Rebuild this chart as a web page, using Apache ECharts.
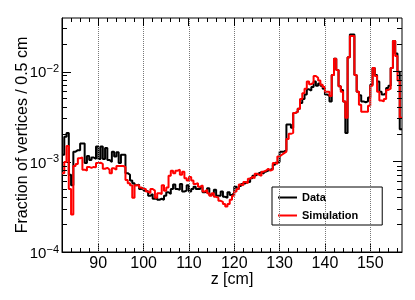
<!DOCTYPE html>
<html><head><meta charset="utf-8">
<script src="https://cdn.jsdelivr.net/npm/echarts@6/dist/echarts.min.js"></script>
<style>html,body{margin:0;padding:0;background:#fff}#main{width:415px;height:300px}</style>
</head><body><div id="main"></div>
<script>
// Histogram binning (z in cm)
const binLow = 82, binWidth = 0.5;
// Data (black) – fraction of vertices per 0.5 cm bin, bins from 82 to 157 cm
const dataValues = [
1.2e-3,1.9e-3,2.1e-3,0.72e-3,0.55e-3,1.3e-3,1.35e-3,1.35e-3,1.6e-3,1.6e-3,
0.97e-3,1.16e-3,1.05e-3,1.12e-3,1.08e-3,1.48e-3,1.08e-3,1.48e-3,1.08e-3,1.43e-3,
1.05e-3,1.0e-3,1.3e-3,1.15e-3,1.28e-3,0.97e-3,1.2e-3,1.2e-3,0.75e-3,0.72e-3,
0.62e-3,0.58e-3,0.55e-3,0.56e-3,0.5e-3,0.52e-3,0.48e-3,0.47e-3,0.42e-3,0.44e-3,
0.39e-3,0.4e-3,0.38e-3,0.39e-3,0.38e-3,0.42e-3,0.46e-3,0.44e-3,0.5e-3,0.56e-3,
0.5e-3,0.49e-3,0.57e-3,0.47e-3,0.48e-3,0.55e-3,0.47e-3,0.5e-3,0.53e-3,0.5e-3,
0.5e-3,0.53e-3,0.46e-3,0.47e-3,0.51e-3,0.43e-3,0.45e-3,0.49e-3,0.42e-3,0.42e-3,
0.47e-3,0.41e-3,0.4e-3,0.46e-3,0.43e-3,0.45e-3,0.53e-3,0.5e-3,0.54e-3,0.57e-3,
0.58e-3,0.6e-3,0.6e-3,0.66e-3,0.7e-3,0.72e-3,0.75e-3,0.77e-3,0.74e-3,0.78e-3,
0.8e-3,0.82e-3,0.84e-3,0.93e-3,0.98e-3,1.0e-3,1.3e-3,1.3e-3,1.35e-3,2.6e-3,
2.6e-3,2.4e-3,3.5e-3,3.6e-3,3.9e-3,4.5e-3,5.0e-3,5.6e-3,6.4e-3,6.2e-3,
6.8e-3,7.8e-3,7.0e-3,7.4e-3,7.0e-3,6.5e-3,5.6e-3,5.4e-3,4.7e-3,9.2e-3,
14e-3,10.5e-3,6.9e-3,6.3e-3,4.7e-3,2.1e-3,14.5e-3,26e-3,26e-3,9.2e-3,
6.0e-3,5.5e-3,4.7e-3,4.6e-3,4.7e-3,5.2e-3,7.2e-3,11e-3,9.2e-3,7.8e-3,
6.0e-3,5.6e-3,5.8e-3,6.6e-3,7.0e-3,11e-3,22e-3,16e-3,10e-3,2.3e-3
];
// Simulation (red)
const simValues = [
0.75e-3,1.0e-3,1.5e-3,0.5e-3,0.26e-3,0.9e-3,0.95e-3,1.1e-3,1.12e-3,0.82e-3,
0.8e-3,0.88e-3,0.86e-3,0.88e-3,0.87e-3,0.97e-3,0.98e-3,0.95e-3,0.84e-3,0.86e-3,
0.82e-3,0.75e-3,0.85e-3,0.82e-3,0.9e-3,0.9e-3,0.9e-3,0.88e-3,0.63e-3,0.58e-3,
0.55e-3,0.4e-3,0.55e-3,0.55e-3,0.52e-3,0.5e-3,0.5e-3,0.47e-3,0.45e-3,0.5e-3,
0.48e-3,0.4e-3,0.45e-3,0.44e-3,0.55e-3,0.48e-3,0.52e-3,0.7e-3,0.8e-3,0.75e-3,
0.8e-3,0.82e-3,0.72e-3,0.78e-3,0.66e-3,0.62e-3,0.68e-3,0.62e-3,0.57e-3,0.58e-3,
0.53e-3,0.55e-3,0.47e-3,0.49e-3,0.45e-3,0.42e-3,0.45e-3,0.41e-3,0.4e-3,0.37e-3,
0.36e-3,0.34e-3,0.32e-3,0.34e-3,0.38e-3,0.42e-3,0.47e-3,0.5e-3,0.56e-3,0.55e-3,
0.6e-3,0.58e-3,0.65e-3,0.68e-3,0.66e-3,0.74e-3,0.72e-3,0.7e-3,0.78e-3,0.8e-3,
0.84e-3,0.8e-3,0.82e-3,0.97e-3,0.95e-3,1.15e-3,1.2e-3,1.25e-3,1.3e-3,1.8e-3,
2.05e-3,2.1e-3,3.5e-3,3.6e-3,3.9e-3,5.0e-3,5.8e-3,6.5e-3,7.8e-3,7.3e-3,
7.6e-3,9.0e-3,8.6e-3,8.0e-3,7.2e-3,6.8e-3,6.0e-3,6.0e-3,5.4e-3,9.2e-3,
14e-3,10.5e-3,6.9e-3,6.0e-3,4.7e-3,3.1e-3,14.5e-3,25e-3,25e-3,9.2e-3,
6.0e-3,4.3e-3,3.6e-3,3.6e-3,3.6e-3,4.2e-3,7.0e-3,11e-3,9.0e-3,6.0e-3,
4.8e-3,4.7e-3,5.0e-3,6.3e-3,6.5e-3,11e-3,22e-3,15e-3,8.0e-3,3.1e-3
];
const xMin = 82, xMax = 157;
const yMin = 1e-4, yMax = 0.0396;
const xTickLabels = [90,100,110,120,130,140,150];
const xMinorTicks = [84,86,88,92,94,96,98,102,104,106,108,112,114,116,118,122,124,126,128,132,134,136,138,142,144,146,148,152,154,156];
const yMajorTicks = [1e-4,1e-3,1e-2];
const yMinorTicks = [2e-4,3e-4,4e-4,5e-4,6e-4,7e-4,8e-4,9e-4,2e-3,3e-3,4e-3,5e-3,6e-3,7e-3,8e-3,9e-3,2e-2,3e-2];
const seriesNames = ['Data','Simulation'];

function toSteps(vals){
  const pts = vals.map((v,i)=>[binLow+i*binWidth, v]);
  pts.push([binLow+vals.length*binWidth, vals[vals.length-1]]);
  return pts;
}
const FONT = '"Liberation Sans", Arial, Helvetica, sans-serif';
const chart = echarts.init(document.getElementById('main'), null, {renderer:'canvas'});
const option = {
  animation:false,
  backgroundColor:'#fff',
  grid:{left:62, right:13, top:18, bottom:48, show:true, borderColor:'#000', borderWidth:1, backgroundColor:'transparent', containLabel:false},
  xAxis:{
    type:'value', min:xMin, max:xMax,
    axisLine:{show:true, onZero:false, lineStyle:{color:'#000', width:1}},
    axisTick:{show:true, inside:true, length:8, customValues:xTickLabels, lineStyle:{color:'#000', width:1}},
    axisLabel:{customValues:xTickLabels, color:'#000', fontSize:16, fontFamily:FONT, margin:4},
    splitLine:{show:false},
    name:'z [cm]', nameLocation:'middle', nameGap:20, nameMoveOverlap:false,
    nameTextStyle:{color:'#000', fontSize:16, fontFamily:FONT}
  },
  yAxis:{
    type:'log', logBase:10, min:yMin, max:yMax,
    axisLine:{show:true, onZero:false, lineStyle:{color:'#000', width:1}},
    axisTick:{show:true, inside:true, length:9, lineStyle:{color:'#000', width:1}},
    axisLabel:{
      showMaxLabel:false, margin:3,
      formatter:function(value){
        const l = Math.log10(value); const e = Math.round(l);
        if (Math.abs(l-e) > 1e-6) return '';
        return '{b|10}{s|\u2212' + Math.abs(e) + '}';
      },
      rich:{
        b:{fontSize:15, fontFamily:FONT, color:'#000', lineHeight:16, padding:[3,0,0,0]},
        s:{fontSize:11, fontFamily:FONT, color:'#000', lineHeight:11, verticalAlign:'top'}
      }
    },
    splitLine:{show:false},
    name:'Fraction of vertices / 0.5 cm', nameLocation:'middle', nameGap:31, nameMoveOverlap:false,
    nameTextStyle:{color:'#000', fontSize:16, fontFamily:FONT}
  },
  legend:{
    left:272, top:187, orient:'vertical',
    itemWidth:19, itemHeight:2, itemGap:7, icon:'rect',
    padding:[5,24,4,6],
    borderColor:'#000', borderWidth:1, backgroundColor:'#fff',
    textStyle:{fontFamily:FONT, fontSize:11, fontWeight:'bold', color:'#000'},
    data:seriesNames
  },
  series:[
    {type:'line', name:'_grid', data:[], silent:true, z:1,
     markLine:{silent:true, symbol:'none', label:{show:false}, animation:false,
       lineStyle:{color:'#777', type:'dotted', width:1},
       data:xTickLabels.map(v=>({xAxis:v}))}},
    {type:'line', name:seriesNames[0], data:toSteps(dataValues), step:'end', showSymbol:false, z:2,
     lineStyle:{color:'#000', width:2}, itemStyle:{color:'#000'}},
    {type:'line', name:seriesNames[1], data:toSteps(simValues), step:'end', showSymbol:false, z:3,
     lineStyle:{color:'#ff0000', width:2}, itemStyle:{color:'#ff0000'}}
  ]
};
chart.setOption(option);

// extra ROOT-style ticks (minor ticks, mirrored ticks on top/right)
const px0 = chart.convertToPixel({xAxisIndex:0}, xMin);
const px1 = chart.convertToPixel({xAxisIndex:0}, xMax);
const pyB = chart.convertToPixel({yAxisIndex:0}, yMin);
const pyT = chart.convertToPixel({yAxisIndex:0}, yMax);
const els = [];
function seg(x1,y1,x2,y2){
  els.push({type:'line', silent:true, z:10, shape:{x1:x1,y1:y1,x2:x2,y2:y2}, style:{stroke:'#000', lineWidth:1}});
}
function r(v){ return Math.round(v-0.5)+0.5; }
xMinorTicks.forEach(v=>{ const p=r(chart.convertToPixel({xAxisIndex:0}, v)); seg(p,pyB,p,pyB-4); seg(p,pyT,p,pyT+4); });
xTickLabels.forEach(v=>{ const p=r(chart.convertToPixel({xAxisIndex:0}, v)); seg(p,pyT,p,pyT+8); });
yMinorTicks.forEach(v=>{ const p=r(chart.convertToPixel({yAxisIndex:0}, v)); seg(px0,p,px0+5,p); seg(px1,p,px1-5,p); });
yMajorTicks.forEach(v=>{ const p=r(chart.convertToPixel({yAxisIndex:0}, v)); seg(px1,p,px1-9,p); });
chart.setOption({graphic:els});
</script>
</body></html>
